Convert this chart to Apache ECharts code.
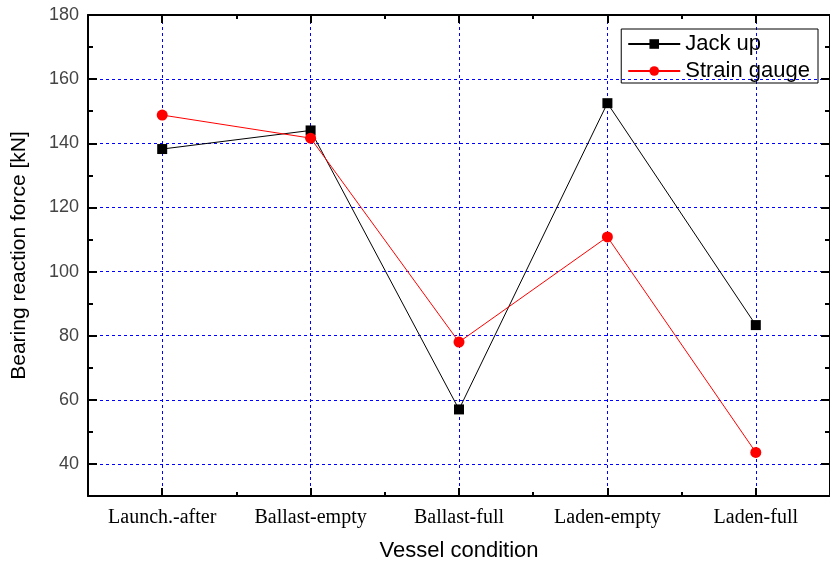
<!DOCTYPE html>
<html>
<head>
<meta charset="utf-8">
<script src="https://cdn.jsdelivr.net/npm/echarts@6/dist/echarts.min.js"></script>
<style>html,body{margin:0;padding:0;background:#fff}#c{width:830px;height:567px}</style>
</head>
<body>
<div id="c"></div>
<script>
const categories = ['Launch.-after', 'Ballast-empty', 'Ballast-full', 'Laden-empty', 'Laden-full'];
const jackUp = [138.2, 144, 57, 152.5, 83.3];
const strainGauge = [148.8, 141.6, 78, 110.8, 43.6];
const yMin = 30, yMax = 180;
const yMajorTicks = [40, 60, 80, 100, 120, 140, 160, 180];
const yMinorTicks = [50, 70, 90, 110, 130, 150, 170];
const xCenters = categories.map((c, i) => i + 1);

const chart = echarts.init(document.getElementById('c'), null, {renderer: 'canvas'});
const blueDash = () => ({show: true, lineStyle: {color: '#0000ff', type: [3, 3], width: 1, opacity: 1}});
const blackTick = (len, extra) => Object.assign({show: true, inside: true, length: len, lineStyle: {color: '#000', width: 2}}, extra || {});
const noLine = {show: false};
const noLabel = {show: false};

const catAxis = (pos, extra) => Object.assign({
  type: 'category', data: categories, boundaryGap: true, position: pos,
  axisLine: {show: true, lineStyle: {color: '#000', width: 2}},
  axisTick: blackTick(4, {alignWithLabel: false}),
  axisLabel: noLabel, splitLine: {show: false}
}, extra || {});
const centerAxis = (pos, grid) => ({
  type: 'value', min: 0.5, max: 5.5, position: pos,
  axisLine: noLine,
  axisTick: blackTick(8, {customValues: xCenters}),
  axisLabel: {show: false, customValues: xCenters},
  splitLine: grid ? blueDash() : {show: false}
});
const yAxisOf = (pos, major, label) => ({
  type: 'value', min: yMin, max: yMax, position: pos,
  axisLine: {show: major, lineStyle: {color: '#000', width: 2}},
  axisTick: blackTick(major ? 9 : 5, {customValues: major ? yMajorTicks : yMinorTicks}),
  axisLabel: label ? {show: true, customValues: yMajorTicks, margin: 9,
    fontFamily: 'Arial, Liberation Sans', fontSize: 18, color: '#444'} : {show: false, customValues: major ? yMajorTicks : yMinorTicks},
  splitLine: (major && label) ? blueDash() : {show: false}
});

const yMain = yAxisOf('left', true, true);
yMain.name = 'Bearing reaction force [kN]';
yMain.nameLocation = 'middle';
yMain.nameGap = 58;
yMain.nameTextStyle = {fontFamily: 'Arial, Liberation Sans', fontSize: 21, color: '#000'};

chart.setOption({
  animation: false,
  backgroundColor: '#ffffff',
  grid: {left: 88, right: -2, top: 15, bottom: 71},
  legend: {
    right: 12, top: 29, orient: 'vertical',
    borderColor: '#000', borderWidth: 1, borderRadius: 0,
    padding: [4, 8, 1, 6], itemGap: 5,
    itemWidth: 52, itemHeight: 12,
    textStyle: {fontFamily: 'Arial, Liberation Sans', fontSize: 22, color: '#000'},
    data: ['Jack up', 'Strain gauge']
  },
  xAxis: [
    catAxis('bottom', {
      name: 'Vessel condition', nameLocation: 'middle', nameGap: 44,
      nameTextStyle: {fontFamily: 'Arial, Liberation Sans', fontSize: 22, color: '#000'},
      axisLabel: {show: true, margin: 12, fontFamily: 'Liberation Serif, Times New Roman', fontSize: 20, color: '#000'}
    }),
    centerAxis('bottom', true),
    catAxis('top'),
    centerAxis('top', false)
  ],
  yAxis: [
    yMain,
    yAxisOf('left', false, false),
    yAxisOf('right', true, false),
    yAxisOf('right', false, false)
  ],
  series: [
    {
      name: 'Jack up', type: 'line', data: jackUp, xAxisIndex: 0, yAxisIndex: 0,
      symbol: 'rect', symbolSize: 10,
      lineStyle: {color: '#000', width: 1}, itemStyle: {color: '#000'}, z: 3
    },
    {
      name: 'Strain gauge', type: 'line', data: strainGauge, xAxisIndex: 0, yAxisIndex: 0,
      symbol: 'circle', symbolSize: 11,
      lineStyle: {color: '#ff0000', width: 1}, itemStyle: {color: '#ff0000'}, z: 4
    }
  ]
});
</script>
</body>
</html>
